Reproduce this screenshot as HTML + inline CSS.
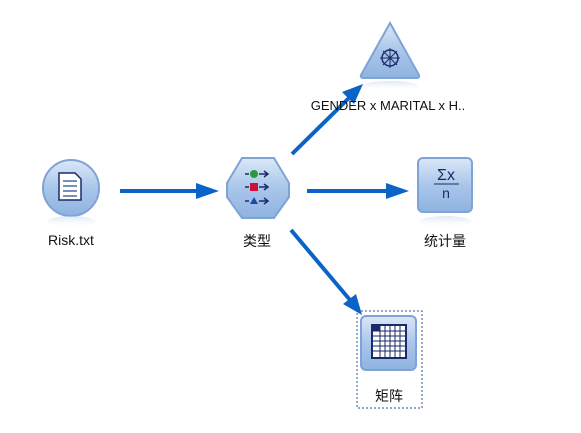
<!DOCTYPE html><html><head><style>body{margin:0;background:#fff}svg{display:block}text{font-family:"Liberation Sans","Noto Sans CJK SC",sans-serif;font-size:14px;fill:#111}</style></head><body>
<svg width="581" height="433" viewBox="0 0 581 433">
<defs>
<linearGradient id="g" x1="0" y1="0" x2="0" y2="1"><stop offset="0" stop-color="#dbe8f7"/><stop offset="0.5" stop-color="#a9c6ea"/><stop offset="1" stop-color="#8fb3e0"/></linearGradient>
<linearGradient id="r" x1="0" y1="0" x2="0" y2="1"><stop offset="0" stop-color="#c7d9f0" stop-opacity=".6"/><stop offset="1" stop-color="#fff" stop-opacity="0"/></linearGradient>
<marker id="a" markerWidth="8" markerHeight="8" refX="7" refY="4" orient="auto" markerUnits="userSpaceOnUse" viewBox="0 0 8 8"><path d="M0,0L8,4L0,8z" fill="#0a64c8"/></marker>
</defs>
<g stroke="#0a64c8" stroke-width="4" fill="none">
<line x1="120" y1="191" x2="200" y2="191"/><path d="M196,183L219,191L196,199z" fill="#0a64c8" stroke="none"/>
<line x1="307" y1="191" x2="390" y2="191"/><path d="M386,183L409,191L386,199z" fill="#0a64c8" stroke="none"/>
<line x1="292" y1="154" x2="350" y2="97"/><path d="M342,92L363,84L354,104z" fill="#0a64c8" stroke="none"/>
<line x1="291" y1="230" x2="350" y2="300"/><path d="M343,304L362,315L356,294z" fill="#0a64c8" stroke="none"/>
</g>
<!-- Risk -->
<circle cx="71" cy="188" r="28" fill="url(#g)" stroke="#7fa3d6" stroke-width="2"/>
<ellipse cx="71" cy="222" rx="24" ry="6" fill="url(#r)"/>
<path d="M59,173h16l6,6v21h-22z" fill="#fff" stroke="#1a2a6a" stroke-width="1.5"/>
<g stroke="#4a6aaa" stroke-width="1.5"><line x1="63" y1="181" x2="77" y2="181"/><line x1="63" y1="186" x2="77" y2="186"/><line x1="63" y1="191" x2="77" y2="191"/><line x1="63" y1="196" x2="77" y2="196"/></g>
<text x="71" y="245" text-anchor="middle">Risk.txt</text>
<!-- Type -->
<path d="M242,158h32l15,25v14l-15,21h-32l-15,-21v-14z" fill="url(#g)" stroke="#7fa3d6" stroke-width="2"/>
<circle cx="254" cy="174" r="4" fill="#2c9a3c"/><rect x="250" y="183" width="8" height="8" fill="#d0103a"/><path d="M254,197l4,7h-8z" fill="#1a4ab0"/>
<g stroke="#1a2a6a" stroke-width="1.5" fill="none"><path d="M245,174h4M259,174h9M264,171l4,3l-4,3M245,187h4M259,187h9M264,184l4,3l-4,3M245,201h4M259,201h9M264,198l4,3l-4,3"/></g>
<text x="257" y="246" text-anchor="middle">类型</text>
<!-- Stats -->
<rect x="418" y="158" width="54" height="54" rx="5" fill="url(#g)" stroke="#7fa3d6" stroke-width="2"/>
<ellipse cx="445" cy="222" rx="26" ry="6" fill="url(#r)"/>
<text x="446" y="180" text-anchor="middle" style="font-size:16px;fill:#1a2a6a">Σx</text>
<line x1="434" y1="184" x2="459" y2="184" stroke="#1a2a6a" stroke-width="1"/>
<text x="446" y="198" text-anchor="middle" style="font-size:14px;fill:#1a2a6a">n</text>
<text x="445" y="246" text-anchor="middle">统计量</text>
<!-- Triangle -->
<path d="M390,23L419,75Q420,78 416,78H364Q360,78 361,75z" fill="url(#g)" stroke="#7fa3d6" stroke-width="2"/>
<ellipse cx="390" cy="86" rx="28" ry="5" fill="url(#r)"/>
<circle cx="390" cy="58" r="8" fill="none" stroke="#1a2a6a" stroke-width="1.5"/>
<g stroke="#1a2a6a" stroke-width="1"><line x1="380" y1="58" x2="400" y2="58"/><line x1="390" y1="48" x2="390" y2="68"/><line x1="383" y1="51" x2="397" y2="65"/><line x1="397" y1="51" x2="383" y2="65"/></g>
<text x="388" y="110" text-anchor="middle" style="font-size:13px">GENDER x MARITAL x H..</text>
<!-- Matrix -->
<rect x="357" y="311" width="65" height="97" fill="none" stroke="#2a5a8a" stroke-width="1" stroke-dasharray="2,2"/>
<rect x="361" y="316" width="55" height="54" rx="5" fill="url(#g)" stroke="#7fa3d6" stroke-width="2"/>
<rect x="372" y="325" width="34" height="33" fill="#fff" stroke="#1a2a6a" stroke-width="2"/>
<g stroke="#1a2a6a" stroke-width="1"><line x1="372" y1="331" x2="406" y2="331"/><line x1="372" y1="336" x2="406" y2="336"/><line x1="372" y1="341" x2="406" y2="341"/><line x1="372" y1="346" x2="406" y2="346"/><line x1="372" y1="351" x2="406" y2="351"/><line x1="380" y1="325" x2="380" y2="358"/><line x1="385" y1="325" x2="385" y2="358"/><line x1="390" y1="325" x2="390" y2="358"/><line x1="395" y1="325" x2="395" y2="358"/><line x1="400" y1="325" x2="400" y2="358"/></g>
<rect x="373" y="326" width="7" height="5" fill="#1a2a6a"/>
<text x="389" y="401" text-anchor="middle">矩阵</text>
</svg></body></html>
